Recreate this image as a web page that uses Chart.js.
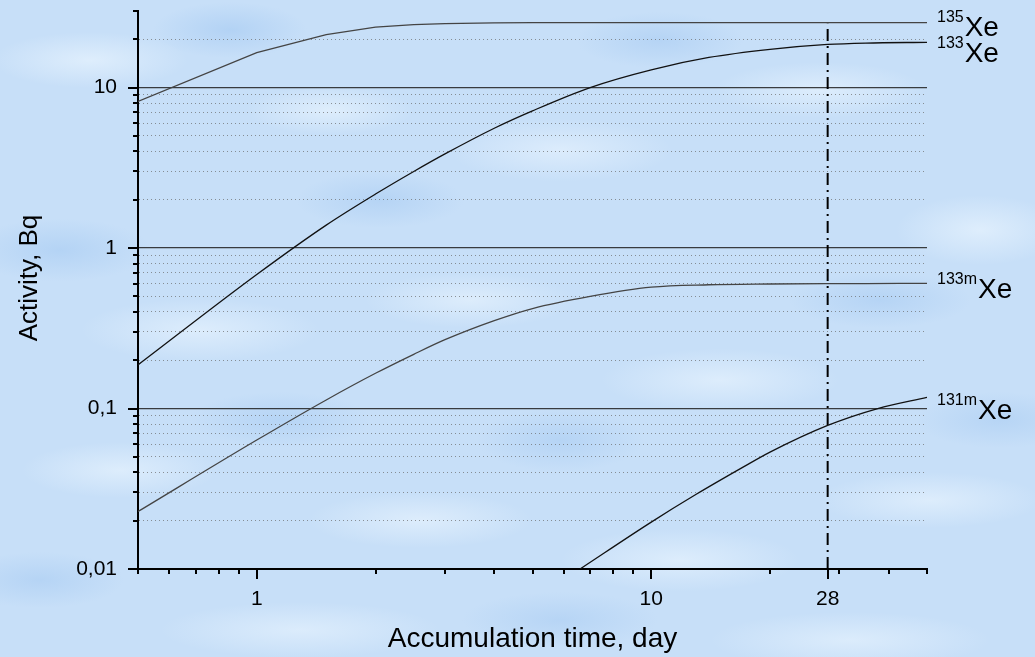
<!DOCTYPE html>
<html>
<head>
<meta charset="utf-8">
<title>Xenon isotopes accumulation</title>
<script src="https://cdn.jsdelivr.net/npm/chart.js@4.4.1/dist/chart.umd.min.js"></script>
<style>
  html, body { margin: 0; padding: 0; width: 1035px; height: 657px; overflow: hidden; }
  body {
    background:
      radial-gradient(ellipse 140px 40px at 90px 60px, rgba(226,240,253,0.85), rgba(226,240,253,0) 70%),
      radial-gradient(ellipse 120px 35px at 330px 110px, rgba(228,241,253,0.8), rgba(228,241,253,0) 70%),
      radial-gradient(ellipse 160px 45px at 560px 150px, rgba(225,239,253,0.8), rgba(225,239,253,0) 70%),
      radial-gradient(ellipse 150px 40px at 820px 90px, rgba(226,240,253,0.8), rgba(226,240,253,0) 70%),
      radial-gradient(ellipse 120px 50px at 980px 230px, rgba(226,240,253,0.85), rgba(226,240,253,0) 70%),
      radial-gradient(ellipse 170px 45px at 200px 330px, rgba(226,240,253,0.8), rgba(226,240,253,0) 70%),
      radial-gradient(ellipse 150px 40px at 470px 300px, rgba(228,241,253,0.75), rgba(228,241,253,0) 70%),
      radial-gradient(ellipse 170px 45px at 720px 380px, rgba(226,240,253,0.8), rgba(226,240,253,0) 70%),
      radial-gradient(ellipse 140px 40px at 120px 470px, rgba(226,240,253,0.8), rgba(226,240,253,0) 70%),
      radial-gradient(ellipse 160px 40px at 420px 520px, rgba(228,241,253,0.75), rgba(228,241,253,0) 70%),
      radial-gradient(ellipse 170px 45px at 680px 560px, rgba(226,240,253,0.8), rgba(226,240,253,0) 70%),
      radial-gradient(ellipse 160px 40px at 930px 500px, rgba(226,240,253,0.8), rgba(226,240,253,0) 70%),
      radial-gradient(ellipse 200px 40px at 300px 630px, rgba(226,240,253,0.75), rgba(226,240,253,0) 70%),
      radial-gradient(ellipse 200px 40px at 850px 640px, rgba(226,240,253,0.75), rgba(226,240,253,0) 70%),
      radial-gradient(ellipse 110px 40px at 230px 30px, rgba(170,205,243,0.7), rgba(170,205,243,0) 70%),
      radial-gradient(ellipse 120px 40px at 660px 40px, rgba(172,206,243,0.65), rgba(172,206,243,0) 70%),
      radial-gradient(ellipse 130px 45px at 60px 250px, rgba(170,205,243,0.65), rgba(170,205,243,0) 70%),
      radial-gradient(ellipse 120px 40px at 380px 200px, rgba(172,206,243,0.65), rgba(172,206,243,0) 70%),
      radial-gradient(ellipse 130px 40px at 880px 300px, rgba(172,206,243,0.65), rgba(172,206,243,0) 70%),
      radial-gradient(ellipse 120px 45px at 560px 440px, rgba(172,206,243,0.65), rgba(172,206,243,0) 70%),
      radial-gradient(ellipse 130px 40px at 280px 420px, rgba(170,205,243,0.6), rgba(170,205,243,0) 70%),
      radial-gradient(ellipse 120px 40px at 40px 580px, rgba(172,206,243,0.65), rgba(172,206,243,0) 70%),
      radial-gradient(ellipse 140px 40px at 560px 620px, rgba(172,206,243,0.6), rgba(172,206,243,0) 70%),
      radial-gradient(ellipse 120px 40px at 1000px 420px, rgba(172,206,243,0.6), rgba(172,206,243,0) 70%),
      #c7dff8;
  }
  canvas { display: block; }
</style>
</head>
<body>
<canvas id="chart" width="1035" height="657"></canvas>
<script>
// Accumulation time, days (shared grid for 135Xe, 133Xe, 133mXe)
const days = [0.5, 1, 1.5, 2, 2.5, 3, 4, 5, 7, 10, 14, 20, 28, 35, 50];

// Activity, Bq
const xe135 = [8.2, 16.5, 21.4, 23.8, 24.7, 25.0, 25.3, 25.4, 25.4, 25.4, 25.4, 25.4, 25.4, 25.4, 25.4];
const xe133 = [0.187, 0.684, 1.39, 2.17, 3.0, 3.86, 5.58, 7.16, 10.0, 12.9, 15.4, 17.3, 18.56, 18.94, 19.14];
const xe133m = [0.0228, 0.0636, 0.1131, 0.1658, 0.2177, 0.2685, 0.353, 0.420, 0.50, 0.571, 0.5905, 0.597, 0.600, 0.601, 0.602];

// 131mXe starts later on the plot
const xe131mDays = [6.6, 10, 13, 17, 20, 28, 37.5, 50];
const xe131m = [0.01, 0.0196, 0.0292, 0.0428, 0.0535, 0.0785, 0.1, 0.1175];

// Marked accumulation time
const markedDay = 28;
const markedTop = 25;

// Isotope names shown at the right end of each curve
const isotopeMass = ['135', '133', '133m', '131m'];
const isotopeSymbol = 'Xe';

// Axis ticks
const xTickValues = [0.5, 0.6, 0.7, 0.8, 0.9, 1, 2, 3, 4, 5, 6, 7, 8, 9, 10, 20, 28, 30, 40, 50];
const xLabelled = [1, 10, 28];
const xLabels = ['1', '10', '28'];
const yTickValues = [0.01, 0.02, 0.03, 0.04, 0.05, 0.06, 0.07, 0.08, 0.09,
                     0.1, 0.2, 0.3, 0.4, 0.5, 0.6, 0.7, 0.8, 0.9,
                     1, 2, 3, 4, 5, 6, 7, 8, 9,
                     10, 20, 30];
const yLabelled = [0.01, 0.1, 1, 10];
const yLabels = ['0,01', '0,1', '1', '10'];

const FONT = '"Liberation Sans", Arial, Helvetica, sans-serif';

function labelFor(v, values, labels) {
  const i = values.indexOf(v);
  return i >= 0 ? labels[i] : '';
}

const pts = (xs, ys) => xs.map((d, i) => ({ x: d, y: ys[i] }));

// Short / long tick marks drawn on both axes
const tickMarks = {
  id: 'tickMarks',
  afterDraw(chart) {
    const { ctx, chartArea: a } = chart;
    const xs = chart.scales.x, ys = chart.scales.y;
    ctx.save();
    ctx.strokeStyle = '#000';
    ctx.lineWidth = 2;
    ctx.beginPath();
    xTickValues.forEach(v => {
      const px = Math.round(xs.getPixelForValue(v));
      const len = xLabelled.includes(v) ? 10 : 5;
      ctx.moveTo(px, a.bottom);
      ctx.lineTo(px, a.bottom + len);
    });
    yTickValues.forEach(v => {
      const py = Math.round(ys.getPixelForValue(v));
      const len = yLabelled.includes(v) ? 10 : 5;
      ctx.moveTo(a.left, py);
      ctx.lineTo(a.left - len, py);
    });
    ctx.stroke();
    ctx.restore();
  }
};

// Axis titles and isotope names
const annotations = {
  id: 'annotations',
  afterDraw(chart) {
    const { ctx, chartArea: a } = chart;
    const ys = chart.scales.y;
    ctx.save();
    ctx.fillStyle = '#000';

    ctx.font = '28px ' + FONT;
    ctx.textAlign = 'center';
    ctx.textBaseline = 'alphabetic';
    ctx.fillText('Accumulation time, day', (a.left + a.right) / 2, 647);

    ctx.save();
    ctx.translate(37, 278);
    ctx.rotate(-Math.PI / 2);
    ctx.font = '26px ' + FONT;
    ctx.fillText('Activity, Bq', 0, 0);
    ctx.restore();

    const ends = [xe135[xe135.length - 1], xe133[xe133.length - 1],
                  xe133m[xe133m.length - 1], xe131m[xe131m.length - 1]];
    const baselineShift = [13, 20, 15, 22];
    ctx.textAlign = 'left';
    ends.forEach((v, i) => {
      const base = ys.getPixelForValue(v) + baselineShift[i];
      const x0 = a.right + 10;
      ctx.font = '16px ' + FONT;
      ctx.fillText(isotopeMass[i], x0, base - 14);
      const w = ctx.measureText(isotopeMass[i]).width;
      ctx.font = '28px ' + FONT;
      ctx.fillText(isotopeSymbol, x0 + w + 1, base);
    });
    ctx.restore();
  }
};

const curveStyle = { borderColor: '#2a2a2a', borderWidth: 1.3, pointRadius: 0, fill: false,
                     cubicInterpolationMode: 'monotone' };

new Chart(document.getElementById('chart'), {
  type: 'line',
  data: {
    datasets: [
      { ...curveStyle, label: '135Xe', data: pts(days, xe135), borderColor: '#444',
        cubicInterpolationMode: 'default', tension: 0 },
      { ...curveStyle, label: '133Xe', data: pts(days, xe133), borderColor: '#111' },
      { ...curveStyle, label: '133mXe', data: pts(days, xe133m), borderColor: '#444' },
      { ...curveStyle, label: '131mXe', data: pts(xe131mDays, xe131m), borderColor: '#111' },
      { label: 'marked', data: [{ x: markedDay, y: 0.01 }, { x: markedDay, y: markedTop }],
        borderColor: '#000', borderWidth: 2, borderDash: [12, 5, 2, 5], pointRadius: 0, fill: false }
    ]
  },
  options: {
    responsive: false,
    animation: false,
    events: [],
    layout: { padding: { top: 11, right: 108, left: 0, bottom: 0 } },
    plugins: { legend: { display: false }, tooltip: { enabled: false } },
    scales: {
      x: {
        type: 'logarithmic',
        min: 0.5,
        max: 50,
        afterBuildTicks: s => { s.ticks = xTickValues.map(v => ({ value: v })); },
        afterFit: s => { s.height = 88; s.paddingLeft = 0; s.paddingRight = 0; },
        ticks: {
          autoSkip: false, maxRotation: 0, minRotation: 0, padding: 8, color: '#000',
          font: { family: FONT, size: 21 },
          callback: v => labelFor(v, xLabelled, xLabels)
        },
        grid: { drawOnChartArea: false, tickLength: 10, tickColor: 'rgba(0,0,0,0)' },
        border: { color: '#000', width: 2 }
      },
      y: {
        type: 'logarithmic',
        min: 0.01,
        max: 30,
        afterBuildTicks: s => { s.ticks = yTickValues.map(v => ({ value: v })); },
        afterFit: s => { s.width = 138; s.paddingTop = 0; s.paddingBottom = 0; },
        ticks: {
          autoSkip: false, padding: 11, color: '#000',
          font: { family: FONT, size: 21 },
          callback: v => labelFor(v, yLabelled, yLabels)
        },
        grid: {
          tickLength: 10,
          tickColor: 'rgba(0,0,0,0)',
          color: c => {
            const v = c.tick ? c.tick.value : null;
            if (v === 0.01 || v === 30 || v === null) return 'rgba(0,0,0,0)';
            return yLabelled.includes(v) ? 'rgba(30,30,30,0.85)' : 'rgba(105,105,105,0.7)';
          },
          lineWidth: c => (c.tick && yLabelled.includes(c.tick.value)) ? 1.3 : 1
        },
        border: {
          color: '#000', width: 2,
          dash: c => (c.tick && !yLabelled.includes(c.tick.value)) ? [1, 3] : []
        }
      }
    }
  },
  plugins: [tickMarks, annotations]
});
</script>
</body>
</html>
